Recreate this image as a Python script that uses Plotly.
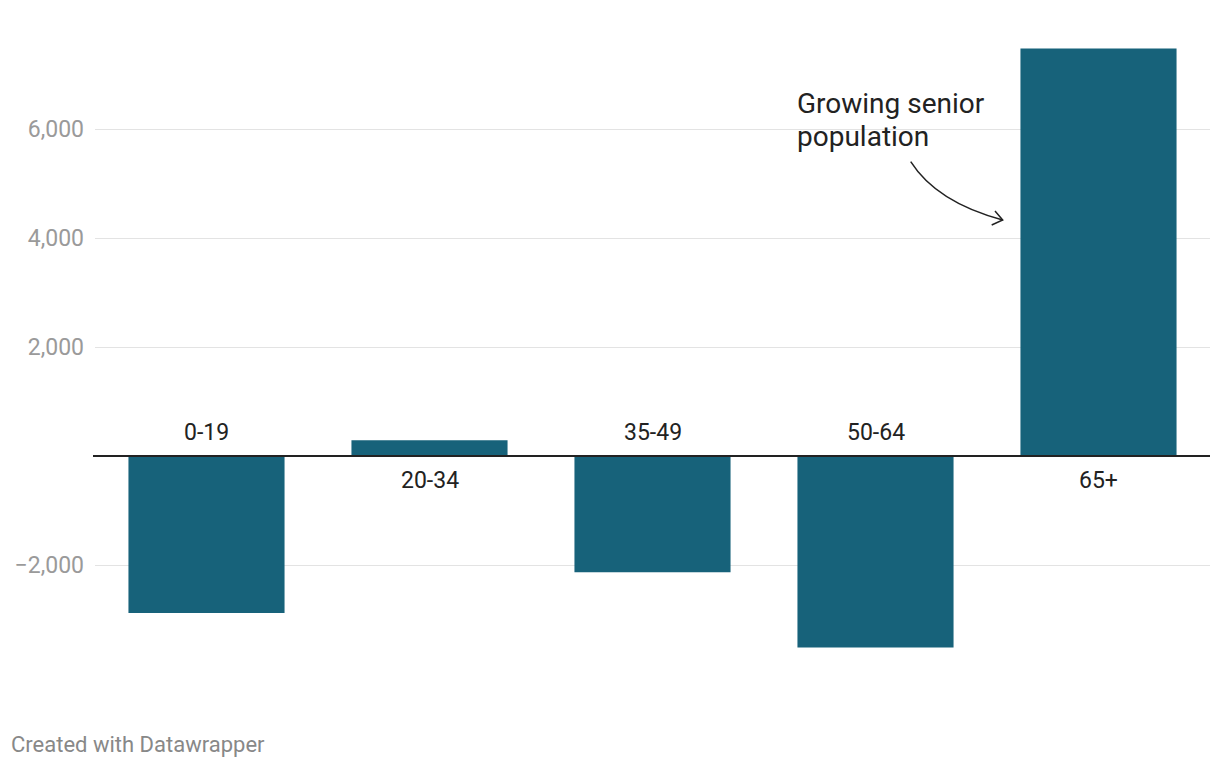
import plotly.graph_objects as go

categories = ["0-19", "20-34", "35-49", "50-64", "65+"]
values = [-2880, 290, -2130, -3510, 7480]
tick_vals = [-2000, 2000, 4000, 6000]
tick_text = ["\u22122,000", "2,000", "4,000", "6,000"]
note_lines = ["Growing senior", "population"]
footer = "Created with Datawrapper"

W, H = 1220, 768
ML, MR, MT, MB = 95, 10, 31, 83
YR = [-4200, 7800]
BAR = "#17627a"

def px(xp):
    return (xp - ML) / (W - ML - MR)

def py(yp):
    return (H - MB - yp) / (H - MT - MB)

fig = go.Figure(go.Bar(x=categories, y=values, marker_color=BAR,
                       marker_line_width=0, width=0.7, hoverinfo="skip"))

annotations = []
for c, v in zip(categories, values):
    annotations.append(dict(x=c, y=0, xref="x", yref="y", text=c, showarrow=False,
                            yshift=(24 if v < 0 else -24),
                            font=dict(family="Roboto", size=23, color="#222222")))

for i, line in enumerate(note_lines):
    annotations.append(dict(x=px(795), y=py(103 + 33 * i), xref="paper", yref="paper",
                            xanchor="left", yanchor="middle", align="left",
                            text=line, showarrow=False,
                            font=dict(family="Roboto", size=28, color="#222222")))
annotations.append(dict(x=px(9), y=py(745), xref="paper", yref="paper",
                        xanchor="left", yanchor="middle",
                        text=footer, showarrow=False,
                        font=dict(family="Roboto", size=22, color="#888888")))

def P(x, y):
    return f"{px(x)},{py(y)}"

shapes = [
    dict(type="path", xref="paper", yref="paper",
         path=f"M {P(910.7,161.7)} Q {P(936.7,202.5)} {P(1002.7,220)}",
         line=dict(color="#222222", width=1.5)),
    dict(type="path", xref="paper", yref="paper",
         path=f"M {P(995,211)} L {P(1002.7,220)} L {P(991.7,225)}",
         line=dict(color="#222222", width=1.5)),
    dict(type="line", xref="paper", yref="y", x0=px(93), x1=1, y0=0, y1=0,
         line=dict(color="#222222", width=2)),
]

fig.update_layout(
    width=W, height=H,
    margin=dict(l=ML, r=MR, t=MT, b=MB),
    plot_bgcolor="white", paper_bgcolor="white",
    showlegend=False,
    bargap=0.3,
    xaxis=dict(showticklabels=False, showgrid=False, zeroline=False, showline=False,
               fixedrange=True),
    yaxis=dict(range=YR, tickvals=tick_vals, ticktext=tick_text,
               showgrid=True, gridcolor="#e3e3e3", gridwidth=1, zeroline=False,
               showline=False, ticks="", ticklabelstandoff=10,
               tickfont=dict(family="Roboto", size=23, color="#9a9a9a"),
               fixedrange=True),
    annotations=annotations,
    shapes=shapes,
)

fig.write_html("out.html")
